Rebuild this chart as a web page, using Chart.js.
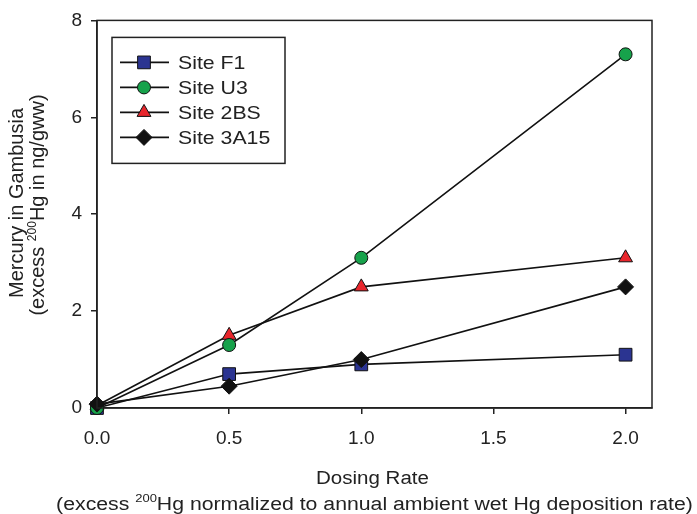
<!DOCTYPE html>
<html>
<head>
<meta charset="utf-8">
<script src="https://cdn.jsdelivr.net/npm/chart.js@4/dist/chart.umd.min.js"></script>
<style>
  html, body { margin: 0; padding: 0; background: #fff; }
  #wrap { width: 697px; height: 514px; }
</style>
</head>
<body>
<div id="wrap"><canvas id="mercuryChart"></canvas></div>
<script>
// Dosing rate (x) and mercury in Gambusia (y) for each site
const doseRate = [0, 0.5, 1.0, 2.0];
const siteNames = ['Site F1', 'Site U3', 'Site 2BS', 'Site 3A15'];
const siteF1 = [0, 0.7, 0.9, 1.1];
const siteU3 = [0, 1.3, 3.1, 7.3];
const site2BS = [0.05, 1.5, 2.5, 3.1];
const site3A15 = [0.08, 0.45, 1.0, 2.5];
const xTicks = [0, 0.5, 1.0, 1.5, 2.0];
const yTicks = [0, 2, 4, 6, 8];

const textColor = '#222';
const font = 'Liberation Sans, Arial, sans-serif';

function toPoints(values) {
    return values.map((v, i) => ({ x: doseRate[i], y: v }));
}

function makeSet(label, values, style, fill, radius, order) {
    return {
        label: label,
        data: toPoints(values),
        borderColor: '#111',
        borderWidth: 1.6,
        pointStyle: style,
        pointRadius: radius,
        pointBackgroundColor: fill,
        pointBorderColor: '#111',
        pointBorderWidth: 1,
        order: order,
        clip: false
    };
}

// Texte avec exposant (200Hg), centré, étiré horizontalement (sx)
function drawRich(ctx, parts, x, y, size, sx) {
    const supSize = Math.round(size * 0.62);
    let total = 0;
    parts.forEach(p => {
        ctx.font = (p.sup ? supSize : size) + 'px ' + font;
        total += ctx.measureText(p.t).width;
    });
    ctx.save();
    ctx.translate(x, y);
    ctx.scale(sx, 1);
    let cx = -total / 2;
    ctx.textAlign = 'left';
    ctx.textBaseline = 'alphabetic';
    parts.forEach(p => {
        ctx.font = (p.sup ? supSize : size) + 'px ' + font;
        ctx.fillText(p.t, cx, p.sup ? -size * 0.42 : 0);
        cx += ctx.measureText(p.t).width;
    });
    ctx.restore();
}

const framePlugin = {
    id: 'frame',
    afterDatasetsDraw(chart) {
        const ctx = chart.ctx;
        const a = chart.chartArea;
        ctx.save();
        ctx.strokeStyle = '#222';
        ctx.lineWidth = 1.5;
        ctx.strokeRect(a.left, a.top, a.right - a.left, a.bottom - a.top);
        ctx.restore();
    }
};

const titlesPlugin = {
    id: 'titles',
    afterDraw(chart) {
        const ctx = chart.ctx;
        const a = chart.chartArea;
        const midX = (a.left + a.right) / 2;
        const midY = 205;
        ctx.save();
        ctx.fillStyle = textColor;
        drawRich(ctx, [{ t: 'Dosing Rate' }], midX - 2, 484, 18, 1.14);
        drawRich(ctx, [
            { t: '(excess ' },
            { t: '200', sup: true },
            { t: 'Hg normalized to annual ambient wet Hg deposition rate)' }
        ], midX, 510, 18, 1.18);

        ctx.translate(0, midY);
        ctx.rotate(-Math.PI / 2);
        drawRich(ctx, [{ t: 'Mercury in Gambusia' }], 2, 23, 20, 1);
        drawRich(ctx, [
            { t: '(excess ' },
            { t: '200', sup: true },
            { t: 'Hg in ng/gww)' }
        ], 0, 44, 20, 1);
        ctx.restore();
    }
};

const legendPlugin = {
    id: 'boxLegend',
    afterDraw(chart) {
        const ctx = chart.ctx;
        const a = chart.chartArea;
        const bx = a.left + 15, by = a.top + 17;
        ctx.save();
        ctx.strokeStyle = '#222';
        ctx.lineWidth = 1.5;
        ctx.strokeRect(bx, by, 173, 126);
        chart.data.datasets.forEach((ds, i) => {
            const y = by + 25 + i * 25;
            ctx.strokeStyle = '#111';
            ctx.lineWidth = 1.6;
            ctx.beginPath();
            ctx.moveTo(bx + 8, y);
            ctx.lineTo(bx + 57, y);
            ctx.stroke();
            ctx.fillStyle = ds.pointBackgroundColor;
            ctx.strokeStyle = '#111';
            ctx.lineWidth = 1;
            Chart.helpers.drawPoint(ctx, {
                pointStyle: ds.pointStyle,
                radius: ds.pointRadius,
                borderWidth: 1,
                rotation: 0
            }, bx + 32, y);
            ctx.fillStyle = textColor;
            ctx.save();
            ctx.translate(bx + 66, y + 7);
            ctx.scale(1.12, 1);
            ctx.font = '19px ' + font;
            ctx.textAlign = 'left';
            ctx.textBaseline = 'alphabetic';
            ctx.fillText(ds.label, 0, 0);
            ctx.restore();
        });
        ctx.restore();
    }
};

const ctx = document.getElementById('mercuryChart');
new Chart(ctx, {
    type: 'line',
    data: {
        datasets: [
            makeSet(siteNames[0], siteF1, 'rect', '#2b3491', 9, 3),
            makeSet(siteNames[1], siteU3, 'circle', '#17a24b', 6.5, 1),
            makeSet(siteNames[2], site2BS, 'triangle', '#e8262c', 8, 2),
            makeSet(siteNames[3], site3A15, 'rectRot', '#111', 8, 0)
        ]
    },
    options: {
        responsive: true,
        maintainAspectRatio: false,
        animation: false,
        layout: { padding: { top: 20, right: 45, left: 0, bottom: 0 } },
        plugins: {
            legend: { display: false },
            tooltip: { enabled: false }
        },
        scales: {
            x: {
                type: 'linear',
                min: 0,
                max: 2.1,
                afterFit(scale) { scale.height = 106; },
                afterBuildTicks(scale) { scale.ticks = xTicks.map(v => ({ value: v })); },
                grid: { display: true, drawOnChartArea: false, drawTicks: true, tickLength: 6, color: '#222', lineWidth: 1.5 },
                border: { display: true, color: '#222', width: 1.5 },
                ticks: {
                    color: textColor,
                    font: { family: font, size: 19 },
                    padding: 13,
                    maxRotation: 0,
                    callback: v => Number(v).toFixed(1)
                }
            },
            y: {
                type: 'linear',
                min: 0,
                max: 8,
                afterFit(scale) { scale.width = 97; },
                afterBuildTicks(scale) { scale.ticks = yTicks.map(v => ({ value: v })); },
                grid: { display: true, drawOnChartArea: false, drawTicks: true, tickLength: 6, color: '#222', lineWidth: 1.5 },
                border: { display: true, color: '#222', width: 1.5 },
                ticks: {
                    color: textColor,
                    font: { family: font, size: 19 },
                    padding: 9
                }
            }
        }
    },
    plugins: [framePlugin, titlesPlugin, legendPlugin]
});
</script>
</body>
</html>
